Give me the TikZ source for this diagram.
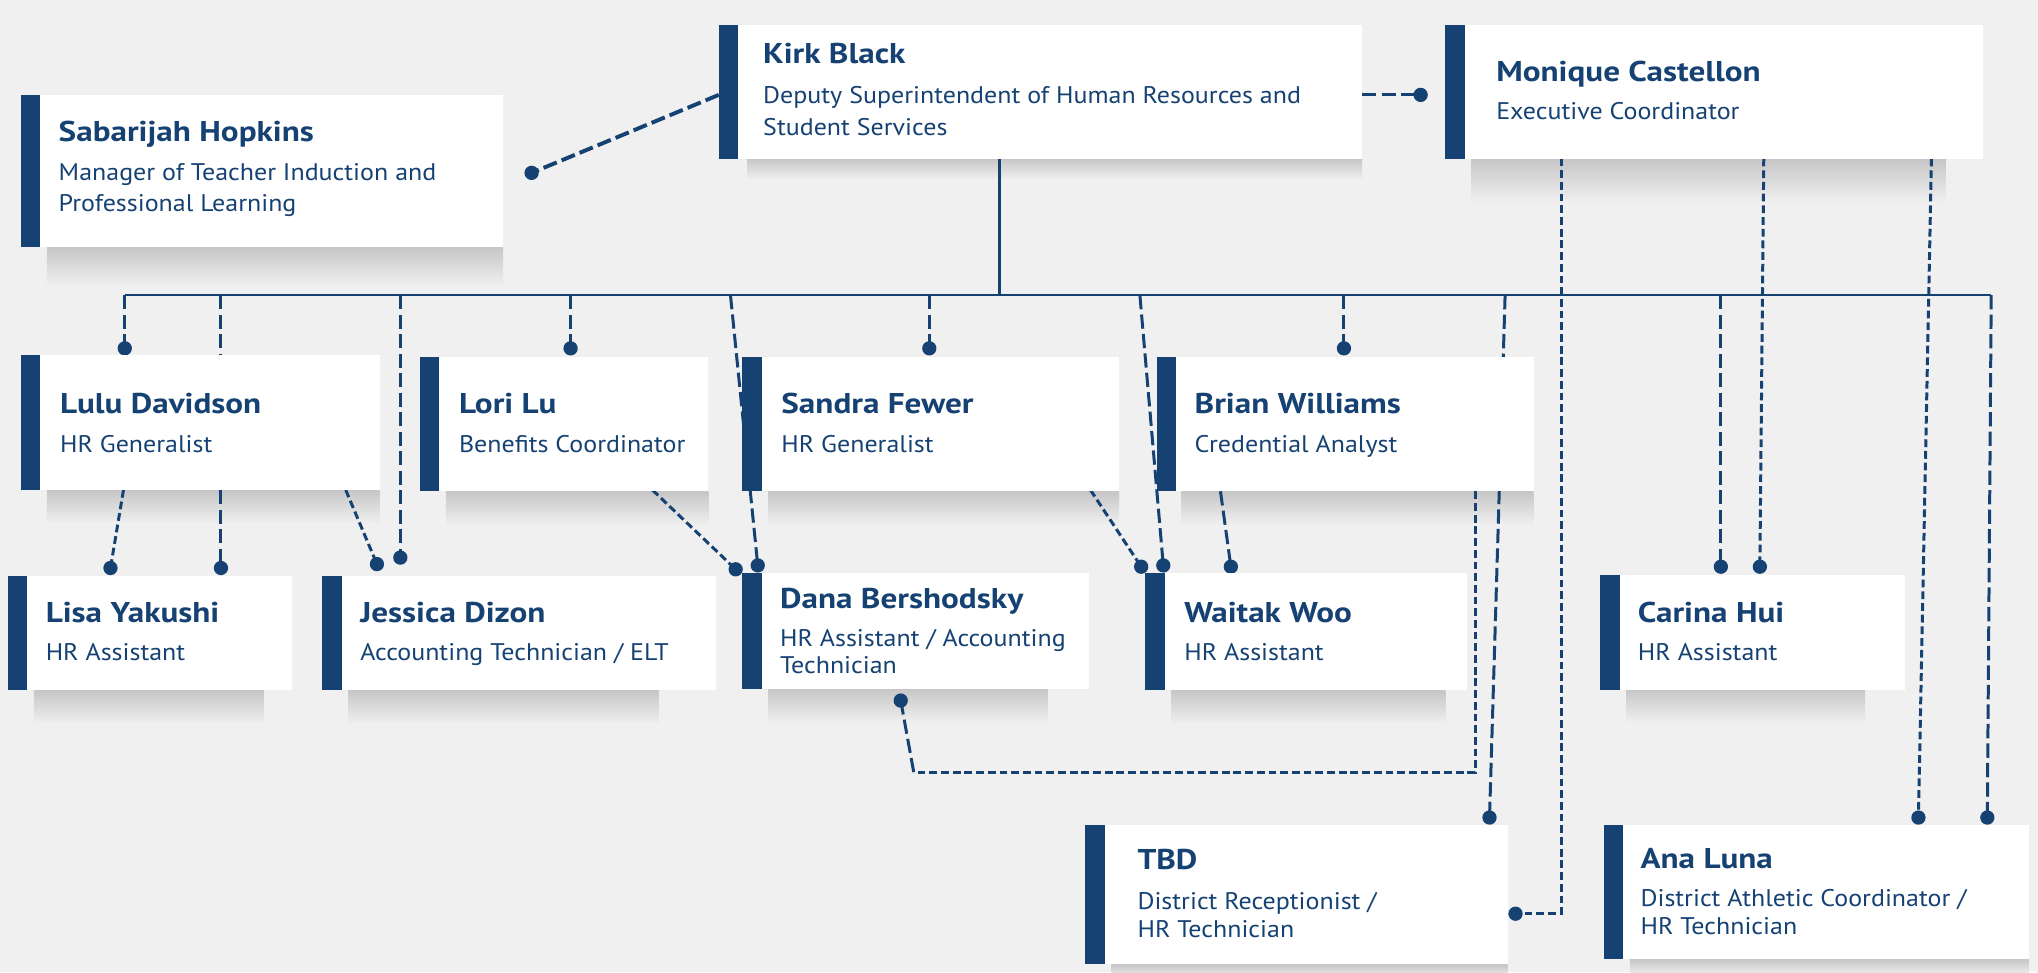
\documentclass[tikz,border=0pt]{standalone}
\usepackage{fontspec}
\setmainfont{PT Sans}
\newfontfamily\namefont[FakeStretch=1.16]{PT Sans}
\newfontfamily\subfont[FakeStretch=1.08]{PT Sans}
\usetikzlibrary{calc}
\definecolor{navy}{HTML}{164273}
\definecolor{bg}{HTML}{F0F0F0}
\definecolor{shd}{HTML}{C6C6C6}
\tikzset{
  card/.style={fill=white, draw=none, anchor=north west, inner sep=0pt, outer sep=0pt},
  nm/.style={anchor=base west, inner sep=0pt, font=\namefont\fontsize{22}{26}\selectfont\bfseries, text=navy},
  sb/.style={anchor=base west, inner sep=0pt, font=\subfont\fontsize{18.5}{22}\selectfont, text=navy},
  mainln/.style={draw=navy, line width=1.6pt},
  solidln/.style={draw=navy, line width=2.2pt},
  longd/.style={draw=navy, line width=2.3pt, dash pattern=on 11pt off 4pt},
  shortd/.style={draw=navy, line width=2.3pt, dash pattern=on 6pt off 3pt},
  dotc/.style={circle, fill=navy, inner sep=0pt, minimum size=11pt},
}
\newcommand\cardshadow[4]{\shade[top color=shd, bottom color=bg] (#1,#2) rectangle (#3,#2+#4);}
\newcommand\cardbox[5]{%
  \node[card, minimum width={(#4-#2)*1pt}, minimum height={(#5-#3)*1pt}] (#1) at (#2,#3) {};
  \fill[navy] (#2,#3) rectangle (#2+15,#5);}
\begin{document}
\begin{tikzpicture}[x=1pt,y=-1pt]
\useasboundingbox (0,0) rectangle (1568,748);
\fill[bg] (0,0) rectangle (1568,748);

% shadows
\cardshadow{36}{190}{387}{30}
\cardshadow{575}{122}{1048}{16}
\cardshadow{1132}{122}{1497}{34}
\cardshadow{36}{377}{292}{26}
\cardshadow{343}{378}{545}{26}
\cardshadow{591}{378}{861}{26}
\cardshadow{909}{378}{1180}{26}
\cardshadow{26}{531}{203}{26}
\cardshadow{268}{531}{507}{26}
\cardshadow{591}{530}{806}{26}
\cardshadow{901}{531}{1112}{26}
\cardshadow{1251}{530}{1435}{26}
\cardshadow{855}{742}{1160}{10}
\cardshadow{1254}{738}{1561}{12}

% coordinates
\coordinate (kirkB) at (769,122);
\coordinate (kirkR) at (1048,73);
\coordinate (kirkL) at (553,73);
\coordinate (hubL) at (96,227);
\coordinate (hubK) at (769,227);
\coordinate (hubR) at (1532,227);
\coordinate (t2) at (170,227);
\coordinate (t3) at (308,227);
\coordinate (t4) at (439,227);
\coordinate (t5) at (562,227);
\coordinate (t6) at (715,227);
\coordinate (t7) at (877,227);
\coordinate (t8) at (1034,227);
\coordinate (t9) at (1158,227);
\coordinate (t10) at (1324,227);
\coordinate (m1s) at (1201,122);
\coordinate (m1c) at (1201,703);
\coordinate (m2s) at (1357,122);
\coordinate (m3s) at (1486,122);
\coordinate (l1s) at (95,377);
\coordinate (l2s) at (266,377);
\coordinate (lors) at (502,377);
\coordinate (sans) at (839,377);
\coordinate (br1s) at (939,378);
\coordinate (br2s) at (1135,378);
\coordinate (br2a) at (1135,594);
\coordinate (br2b) at (703,594);

\node[dotc] (dLulu) at (96,268) {};
\node[dotc] (dLisa2) at (170,437) {};
\node[dotc] (dJess2) at (308,429) {};
\node[dotc] (dLori) at (439,268) {};
\node[dotc] (dDana2) at (583,435) {};
\node[dotc] (dSandra) at (715,268) {};
\node[dotc] (dWai2) at (895,435) {};
\node[dotc] (dBrian) at (1034,268) {};
\node[dotc] (dTbd1) at (1146,629) {};
\node[dotc] (dCar1) at (1324,436) {};
\node[dotc] (dAna2) at (1529,629) {};
\node[dotc] (dMon) at (1093,73) {};
\node[dotc] (dSab) at (409,133) {};
\node[dotc] (dTbd2) at (1166,703) {};
\node[dotc] (dCar2) at (1354,436) {};
\node[dotc] (dAna1) at (1476,629) {};
\node[dotc] (dLisa1) at (85,437) {};
\node[dotc] (dJess1) at (290,434) {};
\node[dotc] (dDana1) at (566,438) {};
\node[dotc] (dWai1) at (878,436) {};
\node[dotc] (dWai3) at (947,436) {};
\node[dotc] (dDana3) at (693,539) {};

% connectors
\draw[mainln] (hubL) -- (hubR);
\draw[solidln] (kirkB) -- (hubK);
\draw[longd] (hubL) -- (dLulu.center);
\draw[longd] (t2) -- (dLisa2.center);
\draw[longd] (t3) -- (dJess2.center);
\draw[longd] (t4) -- (dLori.center);
\draw[longd] (t5) -- (dDana2.center);
\draw[longd] (t6) -- (dSandra.center);
\draw[longd] (t7) -- (dWai2.center);
\draw[longd] (t8) -- (dBrian.center);
\draw[longd] (t9) -- (dTbd1.center);
\draw[longd] (t10) -- (dCar1.center);
\draw[longd] (hubR) -- (dAna2.center);
\draw[longd] (kirkR) -- (dMon.center);
\draw[longd, line width=3pt] (kirkL) -- (dSab.center);
\draw[shortd] (m1s) -- (m1c) -- (dTbd2.center);
\draw[shortd] (m2s) -- (dCar2.center);
\draw[shortd] (m3s) -- (dAna1.center);
\draw[shortd] (l1s) -- (dLisa1.center);
\draw[shortd] (l2s) -- (dJess1.center);
\draw[shortd] (lors) -- (dDana1.center);
\draw[shortd] (sans) -- (dWai1.center);
\draw[longd] (br1s) -- (dWai3.center);
\draw[shortd] (br2s) -- (br2a) -- (br2b);
\draw[longd] (br2b) -- (dDana3.center);

% cards
\cardbox{sab}{16}{73}{387}{190}
\cardbox{kirk}{553}{19}{1048}{122}
\cardbox{mon}{1112}{19}{1526}{122}
\cardbox{lulu}{16}{273}{292}{377}
\cardbox{lori}{323}{275}{545}{378}
\cardbox{sandra}{571}{275}{861}{378}
\cardbox{brian}{890}{275}{1180}{378}
\cardbox{lisa}{6}{443}{225}{531}
\cardbox{jess}{248}{443}{551}{531}
\cardbox{dana}{571}{441}{838}{530}
\cardbox{wai}{881}{441}{1129}{531}
\cardbox{car}{1231}{442}{1466}{531}
\cardbox{tbd}{835}{635}{1160}{742}
\cardbox{ana}{1234}{635}{1561}{738}

% texts
\node[nm] (sabN) at (45,109) {Sabarijah Hopkins};
\node[sb] (sabS1) at (45,138.5) {Manager of Teacher Induction and};
\node[sb] (sabS2) at (45,163) {Professional Learning};
\node[nm] (kirkN) at (587,49) {Kirk Black};
\node[sb] (kirkS1) at (587,80) {Deputy Superintendent of Human Resources and};
\node[sb] (kirkS2) at (587,104.5) {Student Services};
\node[nm] (monN) at (1151,63) {Monique Castellon};
\node[sb] (monS) at (1151,92) {Executive Coordinator};
\node[nm] (luluN) at (46,318.5) {Lulu Davidson};
\node[sb] (luluS) at (46,348) {HR Generalist};
\node[nm] (loriN) at (353,318.5) {Lori Lu};
\node[sb] (loriS) at (353,348) {Benefits Coordinator};
\node[nm] (sandraN) at (601,318.5) {Sandra Fewer};
\node[sb] (sandraS) at (601,348) {HR Generalist};
\node[nm] (brianN) at (919,318.5) {Brian Williams};
\node[sb] (brianS) at (919,348) {Credential Analyst};
\node[nm] (lisaN) at (35,479) {Lisa Yakushi};
\node[sb] (lisaS) at (35,508) {HR Assistant};
\node[nm] (jessN) at (277,479) {Jessica Dizon};
\node[sb] (jessS) at (277,508) {Accounting Technician / ELT};
\node[nm] (danaN) at (600,468) {Dana Bershodsky};
\node[sb] (danaS1) at (600,497.5) {HR Assistant / Accounting};
\node[sb] (danaS2) at (600,518.5) {Technician};
\node[nm] (waiN) at (911,479) {Waitak Woo};
\node[sb] (waiS) at (911,508) {HR Assistant};
\node[nm] (carN) at (1260,479) {Carina Hui};
\node[sb] (carS) at (1260,508.5) {HR Assistant};
\node[nm] (tbdN) at (875,669) {TBD};
\node[sb] (tbdS1) at (875,700) {District Receptionist /};
\node[sb] (tbdS2) at (875,721.5) {HR Technician};
\node[nm] (anaN) at (1262,668) {Ana Luna};
\node[sb] (anaS1) at (1262,697.5) {District Athletic Coordinator /};
\node[sb] (anaS2) at (1262,719) {HR Technician};
\end{tikzpicture}
\end{document}
